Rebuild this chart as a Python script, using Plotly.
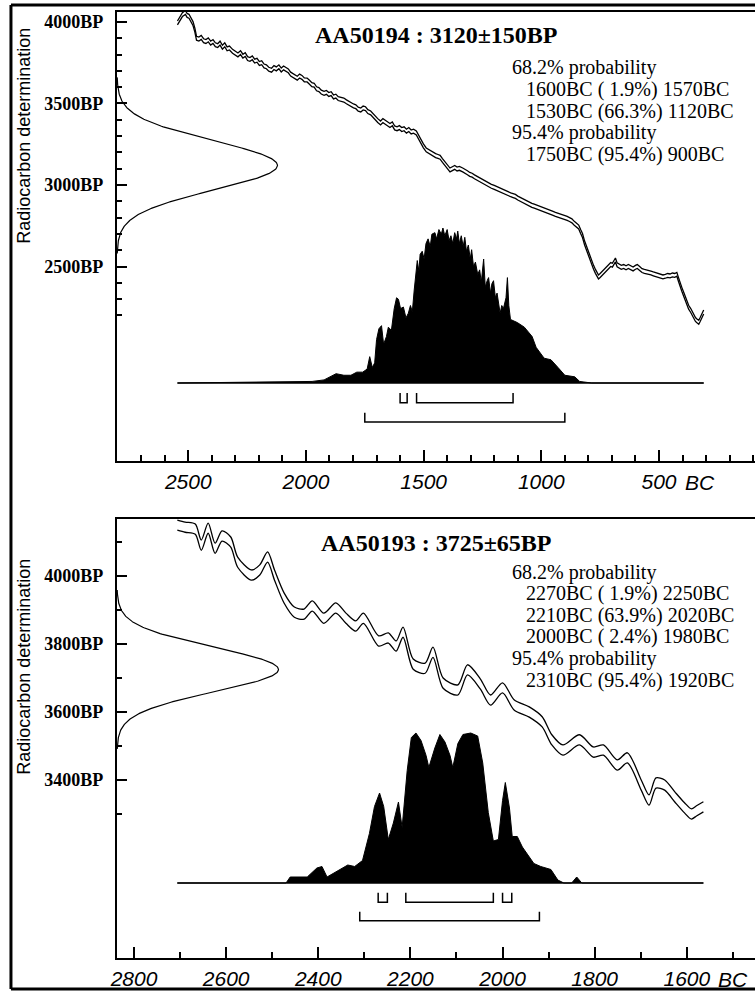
import numpy as np
import plotly.graph_objects as go

W, H = 755, 993

# ---------------- Panel 1 : AA50194 ----------------
p1_title = "AA50194 : 3120±150BP"
p1_mean, p1_sd = 3120, 150
p1_lines = ["68.2% probability", "1600BC ( 1.9%) 1570BC", "1530BC (66.3%) 1120BC",
            "95.4% probability", "1750BC (95.4%) 900BC"]
p1_indent = [0, 1, 1, 0, 1]
p1_cal_year = [2546, 2535, 2525, 2512, 2505, 2497, 2488, 2480, 2472, 2465, 2455, 2445, 2435,
               2425, 2415, 2405, 2395, 2385, 2375, 2365, 2355, 2345, 2335, 2325, 2312, 2300,
               2289, 2278, 2268, 2258, 2248, 2238, 2228, 2218, 2208, 2198, 2188, 2178, 2168,
               2158, 2146, 2136, 2126, 2115, 2105, 2095, 2085, 2075, 2065, 2055, 2045, 2037,
               2027, 2017, 2007, 1995, 1985, 1975, 1965, 1955, 1945, 1935, 1923, 1913, 1903,
               1893, 1883, 1873, 1863, 1853, 1839, 1828, 1818, 1808, 1798, 1788, 1778, 1767,
               1757, 1747, 1737, 1725, 1715, 1705, 1695, 1683, 1673, 1663, 1653, 1643, 1633,
               1623, 1613, 1603, 1593, 1583, 1573, 1563, 1553, 1543, 1531, 1521, 1511, 1501,
               1489, 1479, 1469, 1459, 1449, 1439, 1430, 1420, 1410, 1400, 1388, 1378, 1368,
               1358, 1348, 1334, 1324, 1314, 1304, 1294, 1284, 1272, 1262, 1252, 1242, 1232,
               1222, 1212, 1200, 1190, 1180, 1170, 1160, 1150, 1140, 1130, 1120, 1110, 1100,
               1090, 1081, 1070, 1060, 1050, 1040, 1030, 1020, 1010, 1000, 990, 980, 970, 960,
               950, 940, 930, 920, 910, 900, 890, 880, 870, 860, 850, 841, 833, 825, 816, 808,
               800, 793, 786, 778, 770, 763, 757, 750, 740, 730, 720, 712, 705, 698, 692, 685,
               678, 670, 660, 650, 640, 630, 620, 610, 600, 592, 582, 572, 562, 552, 542, 534,
               524, 514, 504, 494, 483, 473, 463, 453, 443, 433, 424, 417, 411, 403, 395, 388,
               382, 374, 365, 358, 352, 345, 340, 335, 331, 325, 320, 315, 310]
p1_cal_bp = [3994, 4020, 4045, 4058, 4040, 4035, 4010, 3990, 3950, 3900, 3895, 3905, 3885,
             3880, 3890, 3870, 3880, 3860, 3855, 3870, 3845, 3860, 3835, 3840, 3820, 3810,
             3798, 3812, 3790, 3800, 3775, 3770, 3780, 3760, 3765, 3745, 3750, 3730, 3725,
             3710, 3704, 3720, 3712, 3725, 3705, 3718, 3710, 3700, 3680, 3670, 3660, 3655,
             3668, 3660, 3645, 3644, 3630, 3615, 3612, 3590, 3585, 3570, 3562, 3568, 3555,
             3560, 3540, 3545, 3530, 3528, 3521, 3510, 3500, 3495, 3485, 3480, 3465, 3460,
             3472, 3468, 3450, 3442, 3425, 3410, 3395, 3380, 3395, 3385, 3372, 3365, 3375,
             3350, 3345, 3352, 3340, 3345, 3330, 3340, 3325, 3330, 3319, 3290, 3265, 3240,
             3215, 3205, 3195, 3185, 3180, 3175, 3170, 3150, 3130, 3110, 3092, 3100, 3108,
             3098, 3102, 3092, 3085, 3075, 3065, 3060, 3050, 3040, 3031, 3020, 3012, 3005,
             2998, 2992, 2985, 2978, 2972, 2968, 2958, 2950, 2945, 2940, 2935, 2930, 2920,
             2912, 2908, 2898, 2888, 2880, 2875, 2870, 2865, 2860, 2855, 2850, 2845, 2840, 2832,
             2826, 2820, 2815, 2812, 2808, 2804, 2795, 2788, 2780, 2765, 2752, 2742, 2715, 2690,
             2644, 2610, 2580, 2550, 2521, 2495, 2470, 2450, 2436, 2445, 2460, 2478, 2495, 2505,
             2512, 2508, 2520, 2540, 2510, 2505, 2495, 2500, 2492, 2500, 2490, 2485, 2495, 2500,
             2488, 2475, 2470, 2468, 2462, 2460, 2455, 2450, 2445, 2440, 2436, 2440, 2445, 2442,
             2448, 2445, 2452, 2420, 2399, 2360, 2330, 2300, 2276, 2250, 2230, 2210, 2190, 2175,
             2168, 2160, 2158, 2175, 2190, 2205, 2221]
p1_cal_err = 12
p1_post_year = [2546, 1974, 1923, 1872, 1839, 1809, 1784, 1759, 1740, 1729, 1718, 1708, 1700,
                1690, 1679, 1670, 1658, 1650, 1637, 1625, 1615, 1607, 1598, 1586, 1575, 1565,
                1556, 1548, 1540, 1533, 1527, 1520, 1515, 1506, 1498, 1490, 1481, 1472, 1465,
                1452, 1445, 1435, 1425, 1418, 1410, 1400, 1392, 1384, 1376, 1368, 1360, 1355,
                1348, 1340, 1332, 1325, 1318, 1310, 1302, 1296, 1288, 1280, 1270, 1262, 1255,
                1245, 1238, 1230, 1224, 1216, 1210, 1203, 1195, 1188, 1182, 1175, 1168, 1161,
                1150, 1144, 1138, 1131, 1102, 1072, 1039, 1022, 988, 959, 929, 900, 858, 837,
                786, 310]
p1_post_prob = [0, 0.01, 0.02, 0.06, 0.05, 0.05, 0.07, 0.07, 0.09, 0.17, 0.10, 0.13, 0.28,
                0.35, 0.37, 0.25, 0.30, 0.36, 0.34, 0.48, 0.55, 0.54, 0.48, 0.49, 0.42, 0.45,
                0.50, 0.46, 0.60, 0.70, 0.79, 0.72, 0.83, 0.85, 0.80, 0.90, 0.93, 0.88, 0.96,
                0.97, 0.93, 0.99, 0.96, 1.0, 0.95, 0.99, 0.92, 0.95, 0.90, 0.97, 0.93, 0.98,
                0.90, 0.95, 0.88, 0.94, 0.85, 0.89, 0.80, 0.86, 0.75, 0.78, 0.70, 0.73, 0.65,
                0.80, 0.62, 0.66, 0.68, 0.58, 0.64, 0.66, 0.55, 0.58, 0.53, 0.45, 0.50, 0.48,
                0.55, 0.68, 0.50, 0.41, 0.39, 0.36, 0.30, 0.23, 0.16, 0.15, 0.10, 0.05, 0.04,
                0.01, 0, 0]
p1_r68 = [(1600, 1570), (1530, 1120)]
p1_r95 = [(1750, 900)]
p1_xticks = [2500, 2000, 1500, 1000, 500]
p1_yticks = [2500, 3000, 3500, 4000]
p1_yminor = list(range(2200, 4001, 100))

# ---------------- Panel 2 : AA50193 ----------------
p2_title = "AA50193 : 3725±65BP"
p2_mean, p2_sd = 3725, 65
p2_lines = ["68.2% probability", "2270BC ( 1.9%) 2250BC", "2210BC (63.9%) 2020BC",
            "2000BC ( 2.4%) 1980BC", "95.4% probability", "2310BC (95.4%) 1920BC"]
p2_indent = [0, 1, 1, 1, 0, 1]
p2_cal_year = [2706, 2689, 2667, 2654, 2639, 2624, 2609, 2590, 2575, 2545, 2527, 2510, 2495,
               2474, 2452, 2431, 2413, 2388, 2362, 2340, 2319, 2302, 2269, 2248, 2231, 2216,
               2194, 2168, 2151, 2129, 2097, 2076, 2048, 2026, 2000, 1975, 1942, 1914, 1893,
               1869, 1833, 1803, 1781, 1751, 1729, 1699, 1682, 1667, 1648, 1626, 1605, 1590,
               1579, 1564]
p2_cal_bp = [4150, 4144, 4138, 4091, 4141, 4082, 4118, 4100, 4041, 4003, 4018, 4056, 4003,
             3935, 3894, 3888, 3912, 3876, 3906, 3876, 3853, 3876, 3809, 3818, 3794, 3835,
             3741, 3729, 3776, 3685, 3665, 3724, 3682, 3635, 3671, 3621, 3600, 3571, 3518,
             3488, 3518, 3482, 3488, 3444, 3465, 3385, 3341, 3391, 3385, 3350, 3318, 3300,
             3309, 3321]
p2_cal_err = 15
p2_post_year = [2706, 2470, 2461, 2424, 2403, 2392, 2381, 2351, 2336, 2321, 2304, 2289, 2278,
                2267, 2258, 2248, 2237, 2226, 2218, 2207, 2198, 2188, 2177, 2166, 2160, 2147,
                2136, 2125, 2114, 2108, 2097, 2086, 2069, 2054, 2043, 2031, 2020, 2009, 2000,
                1994, 1985, 1979, 1968, 1957, 1942, 1932, 1917, 1895, 1880, 1867, 1850, 1839,
                1828, 1564]
p2_post_prob = [0, 0, 0.04, 0.04, 0.10, 0.11, 0.04, 0.09, 0.12, 0.11, 0.15, 0.33, 0.51,
                0.60, 0.51, 0.29, 0.40, 0.54, 0.37, 0.75, 0.97, 1.0, 0.95, 0.85, 0.77, 0.90,
                0.99, 0.94, 0.85, 0.77, 0.93, 0.99, 1.0, 0.98, 0.80, 0.47, 0.28, 0.29, 0.55,
                0.67, 0.50, 0.31, 0.31, 0.24, 0.17, 0.13, 0.11, 0.09, 0.02, 0.0, 0.0, 0.04,
                0.0, 0]
p2_r68 = [(2270, 2250), (2210, 2020), (2000, 1980)]
p2_r95 = [(2310, 1920)]
p2_xticks = [2800, 2600, 2400, 2200, 2000, 1800, 1600]
p2_yticks = [3400, 3600, 3800, 4000]
p2_yminor = list(range(3300, 4101, 100))

ytitle = "Radiocarbon determination"

# ---------------- geometry (pixels) ----------------
def px(x):
    return x / W

def py(y):
    return 1 - y / H

AX_L = 111
panels = [
    dict(top=12, bot=461, xr=[2803, 92], yr=[1307, 4061], base=78, hgt=155, gpk=162,
         title_y=35, text_y0=68, ytitle_y=136, lab_y=482, bc_shift=24, smooth=False),
    dict(top=519, bot=958, xr=[2837, 1452], yr=[2876, 4168], base=75, hgt=150, gpk=163,
         title_y=543, text_y0=572, ytitle_y=667, lab_y=979, bc_shift=29, smooth=True),
]
data = [
    dict(title=p1_title, mean=p1_mean, sd=p1_sd, lines=p1_lines, indent=p1_indent,
         cy=p1_cal_year, cb=p1_cal_bp, ce=p1_cal_err, py_=p1_post_year, pp=p1_post_prob,
         r68=p1_r68, r95=p1_r95, xt=p1_xticks, yt=p1_yticks, ym=p1_yminor),
    dict(title=p2_title, mean=p2_mean, sd=p2_sd, lines=p2_lines, indent=p2_indent,
         cy=p2_cal_year, cb=p2_cal_bp, ce=p2_cal_err, py_=p2_post_year, pp=p2_post_prob,
         r68=p2_r68, r95=p2_r95, xt=p2_xticks, yt=p2_yticks, ym=p2_yminor),
]

fig = go.Figure()
layout = dict(width=W, height=H, margin=dict(l=0, r=0, t=0, b=0),
              paper_bgcolor="white", plot_bgcolor="white", showlegend=False)
annotations = []
shapes = []

serif = "Liberation Serif"
sans = "Liberation Sans"

for i, (g, d) in enumerate(zip(panels, data)):
    n = i + 1
    xa, ya = f"x{'' if n == 1 else n}", f"y{'' if n == 1 else n}"
    xo, yo = f"x{n + 2}", f"y{n + 2}"
    xkey, ykey = f"xaxis{'' if n == 1 else n}", f"yaxis{'' if n == 1 else n}"
    dom_x = [px(AX_L), 1.0]
    dom_y = [py(g["bot"]), py(g["top"])]
    plot_h = g["bot"] - g["top"]

    layout[xkey] = dict(domain=dom_x, range=g["xr"], anchor=ya, showline=True, linewidth=2,
                        linecolor="black", mirror=True, showgrid=False, zeroline=False,
                        ticks="inside", ticklen=11, tickwidth=1.5, tickcolor="black",
                        tickmode="array", tickvals=d["xt"], ticktext=[str(v) for v in d["xt"]],
                        tickfont=dict(family=sans, size=21, color="black", style="italic"),
                        ticklabelstandoff=1,
                        minor=dict(dtick=100, tick0=0, ticks="inside", ticklen=6,
                                   tickwidth=1.5, tickcolor="black", showgrid=False))
    layout[ykey] = dict(domain=dom_y, range=g["yr"], anchor=xa, showline=True, linewidth=2,
                        linecolor="black", showgrid=False, zeroline=False,
                        ticks="inside", ticklen=10, tickwidth=1.5, tickcolor="black",
                        tickmode="array", tickvals=d["yt"],
                        ticktext=[f"{v}BP" for v in d["yt"]],
                        tickfont=dict(family=serif, size=18, color="black", weight="bold"),
                        ticklabelstandoff=8,
                        minor=dict(tickmode="array", tickvals=d["ym"], ticks="inside",
                                   ticklen=5, tickwidth=1.5, tickcolor="black", showgrid=False))
    # overlay axes: gaussian (x) and posterior (y)
    layout[f"xaxis{n + 2}"] = dict(overlaying=xa, anchor=ya, range=[0, (W - AX_L) / g["gpk"]],
                                   visible=False)
    r0 = -g["base"] / g["hgt"]
    layout[f"yaxis{n + 2}"] = dict(overlaying=ya, anchor=xa,
                                   range=[r0, r0 + plot_h / g["hgt"]], visible=False)

    # posterior
    fig.add_trace(go.Scatter(x=d["py_"], y=d["pp"], xaxis=xa, yaxis=yo, mode="lines",
                             fill="tozeroy", fillcolor="black",
                             line=dict(color="black", width=1), hoverinfo="skip"))
    # baseline over calibration range
    fig.add_trace(go.Scatter(x=[d["cy"][0], d["cy"][-1]], y=[0, 0], xaxis=xa, yaxis=yo,
                             mode="lines", line=dict(color="black", width=1.5)))
    # brackets
    for ranges, (b_top, b_bot) in ((d["r68"], (-0.065, -0.128)), (d["r95"], (-0.192, -0.252))):
        bx, by = [], []
        for a, b in ranges:
            bx += [a, a, b, b, None]
            by += [b_top, b_bot, b_bot, b_top, None]
        fig.add_trace(go.Scatter(x=bx, y=by, xaxis=xa, yaxis=yo, mode="lines",
                                 line=dict(color="black", width=1.5)))
    # calibration curve envelope
    cb = np.array(d["cb"], dtype=float)
    cline = dict(color="black", width=1.3)
    if g["smooth"]:
        cline.update(shape="spline", smoothing=0.8)
    for s in (1, -1):
        fig.add_trace(go.Scatter(x=d["cy"], y=cb + s * d["ce"], xaxis=xa, yaxis=ya,
                                 mode="lines", line=cline))
    # measurement gaussian
    bp = np.linspace(d["mean"] - 3.6 * d["sd"], d["mean"] + 3.6 * d["sd"], 300)
    gv = np.exp(-0.5 * ((bp - d["mean"]) / d["sd"]) ** 2)
    fig.add_trace(go.Scatter(x=gv, y=bp, xaxis=xo, yaxis=ya, mode="lines",
                             line=dict(color="black", width=1.2)))

    # texts
    annotations.append(dict(text=d["title"], xref="paper", yref="paper", x=px(434),
                            y=py(g["title_y"]), xanchor="center", yanchor="middle",
                            showarrow=False,
                            font=dict(family=serif, size=24, color="black", weight="bold")))
    for k, (t, ind) in enumerate(zip(d["lines"], d["indent"])):
        annotations.append(dict(text=t, xref="paper", yref="paper",
                                x=px(508 + 14 * ind), y=py(g["text_y0"] + 21.6 * k),
                                xanchor="left", yanchor="middle", showarrow=False,
                                font=dict(family=serif, size=20, color="black")))
    annotations.append(dict(text=ytitle, xref="paper", yref="paper", x=px(17),
                            y=py(g["ytitle_y"]), textangle=-90, xanchor="center",
                            yanchor="middle", showarrow=False,
                            font=dict(family=sans, size=18, color="black")))
    annotations.append(dict(text="BC", xref=xa, yref="paper", x=d["xt"][-1],
                            y=py(g["lab_y"]), xanchor="left", yanchor="middle",
                            xshift=g["bc_shift"], showarrow=False,
                            font=dict(family=sans, size=21, color="black", style="italic")))

# outer frame
for x0, y0, x1, y1 in [(4, 5, 755, 5), (4, 5, 4, 989), (4, 989, 755, 989)]:
    shapes.append(dict(type="line", xref="paper", yref="paper", x0=px(x0), y0=py(y0),
                       x1=px(x1), y1=py(y1), line=dict(color="black", width=3)))

layout["annotations"] = annotations
layout["shapes"] = shapes
fig.update_layout(**layout)
fig.write_html("out.html", config={"displayModeBar": False},
               post_script="document.body.style.margin='0';document.body.style.overflow='hidden';")
